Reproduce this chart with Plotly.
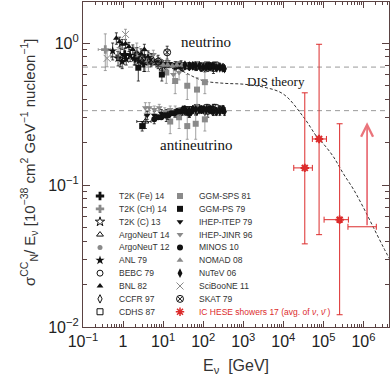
import numpy as np
import plotly.graph_objects as go

# ---------------- data ----------------
NU_REF = 0.677      # DIS expectation, neutrino (dashed line)
NUBAR_REF = 0.334   # DIS expectation, antineutrino (dashed line)

DIS_E = [3.16, 10, 31.6, 100, 316, 1e3, 3.16e3, 1e4, 3.16e4, 7.08e4, 1e5, 1.78e5,
         3.16e5, 5.62e5, 1e6, 1.78e6, 3.16e6, 4.47e6]
DIS_SIG = [0.90, 0.759, 0.631, 0.543, 0.521, 0.513, 0.490, 0.437, 0.302, 0.216, 0.195,
           0.158, 0.120, 0.0933, 0.0692, 0.0501, 0.0363, 0.0302]

T2K_FE_E = [1.1, 2.0, 3.3]
T2K_FE_NU = [0.83, 0.78, 0.72]
T2K_FE_ERR = [0.09, 0.08, 0.09]

T2K_CH_E = [0.36]
T2K_CH_NU = [0.90]
T2K_CH_ERR = [0.26]
T2K_CH_XERR = [0.12]

T2K_C_E = [0.85]
T2K_C_NU = [0.80]
T2K_C_ERR = [0.12]
T2K_C_XERR = [0.35]

ARGO14_NU_E = [9.6]
ARGO14_NU = [0.66]
ARGO14_NU_ERR = [0.06]
ARGO14_NB_E = [3.6]
ARGO14_NB = [0.28]
ARGO14_NB_ERR = [0.03]
ARGO14_NB_XERR = [1.4]

ARGO12_E = [4.3]
ARGO12_NU = [0.73]
ARGO12_ERR = [0.10]

ANL_E = [0.55, 0.75, 0.95, 1.2, 1.5, 1.9, 2.5, 3.5]
ANL_NU = [0.88, 0.78, 0.74, 0.77, 0.82, 0.78, 0.75, 0.73]
ANL_ERR = [0.12, 0.09, 0.08, 0.07, 0.08, 0.08, 0.08, 0.10]

BEBC_E = [12, 20, 30, 45, 65, 90, 130, 180]
BEBC_NU = [0.70, 0.68, 0.67, 0.69, 0.68, 0.67, 0.68, 0.66]
BEBC_NU_ERR = [0.05, 0.04, 0.04, 0.04, 0.04, 0.04, 0.05, 0.05]
BEBC_NB = [0.31, 0.32, 0.33, 0.32, 0.33, 0.34, 0.33, 0.34]
BEBC_NB_ERR = [0.03, 0.02, 0.02, 0.02, 0.02, 0.02, 0.03, 0.03]

BNL_E = [0.68, 0.82, 0.95, 1.15, 1.4, 1.75, 2.2, 2.8, 3.4, 4.2]
BNL_NU = [1.08, 1.02, 0.98, 0.99, 0.94, 0.90, 0.86, 0.84, 0.90, 0.80]
BNL_ERR = [0.10, 0.08, 0.08, 0.07, 0.07, 0.07, 0.07, 0.07, 0.08, 0.08]

CCFR_E = [35, 45, 55, 70, 90, 110, 140, 170, 210, 260, 320]
CCFR_NU = [0.69, 0.68, 0.69, 0.68, 0.68, 0.67, 0.68, 0.68, 0.67, 0.68, 0.67]
CCFR_NU_ERR = [0.02, 0.02, 0.02, 0.02, 0.02, 0.02, 0.02, 0.02, 0.02, 0.03, 0.03]
CCFR_NB = [0.34, 0.33, 0.34, 0.33, 0.34, 0.33, 0.34, 0.33, 0.33, 0.34, 0.34]
CCFR_NB_ERR = [0.01, 0.01, 0.01, 0.01, 0.01, 0.01, 0.01, 0.01, 0.02, 0.02, 0.02]

CDHS_E = [25, 35, 50, 70, 95, 125, 160, 200]
CDHS_NU = [0.70, 0.69, 0.69, 0.70, 0.69, 0.70, 0.69, 0.70]
CDHS_NU_ERR = [0.02, 0.02, 0.02, 0.02, 0.02, 0.02, 0.03, 0.03]
CDHS_NB = [0.33, 0.34, 0.34, 0.35, 0.34, 0.35, 0.34, 0.35]
CDHS_NB_ERR = [0.01, 0.01, 0.01, 0.01, 0.01, 0.02, 0.02, 0.02]

GGMSPS_NU_E = [12, 20, 40, 70, 110]
GGMSPS_NU = [0.62, 0.54, 0.50, 0.47, 0.53]
GGMSPS_NU_ERR = [0.10, 0.10, 0.10, 0.10, 0.09]
GGMSPS_NB_E = [15, 25, 40, 65, 110]
GGMSPS_NB = [0.28, 0.30, 0.26, 0.27, 0.29]
GGMSPS_NB_ERR = [0.05, 0.05, 0.05, 0.06, 0.05]

GGMPS_NU_E = [2.4, 9.3]
GGMPS_NU = [0.67, 0.60]
GGMPS_NU_ERR = [0.13, 0.06]
GGMPS_NB_E = [3.0]
GGMPS_NB = [0.26]
GGMPS_NB_ERR = [0.02]

ITEP_NU_E = [3.5, 5, 7, 10, 14, 20, 28]
ITEP_NU = [0.76, 0.74, 0.72, 0.71, 0.71, 0.70, 0.70]
ITEP_NU_ERR = [0.05, 0.04, 0.04, 0.04, 0.04, 0.04, 0.05]
ITEP_NB_E = [4, 6, 9, 13, 20, 28]
ITEP_NB = [0.31, 0.31, 0.32, 0.31, 0.32, 0.33]
ITEP_NB_ERR = [0.02, 0.02, 0.02, 0.02, 0.02, 0.02]

JINR_NU_E = [5.7, 8, 12, 18, 25]
JINR_NU = [0.83, 0.74, 0.68, 0.60, 0.62]
JINR_NU_ERR = [0.06, 0.05, 0.06, 0.08, 0.07]
JINR_NB_E = [3.6, 4.5, 6, 8, 11, 15, 20, 27]
JINR_NB = [0.35, 0.35, 0.34, 0.35, 0.33, 0.34, 0.33, 0.32]
JINR_NB_ERR = [0.03, 0.03, 0.02, 0.02, 0.02, 0.02, 0.03, 0.03]

MINOS_NU_E = [3.5, 4.5, 5.5, 7, 9, 11, 13.5, 16, 19, 22.5, 27, 32, 38, 45]
MINOS_NU = [0.76, 0.74, 0.73, 0.72, 0.71, 0.70, 0.70, 0.70, 0.69, 0.69, 0.69, 0.70, 0.69, 0.69]
MINOS_NU_ERR = [0.03, 0.02, 0.02, 0.02, 0.02, 0.02, 0.02, 0.02, 0.02, 0.02, 0.02, 0.02, 0.02, 0.03]
MINOS_NB_E = [6, 7.5, 9, 11, 13.5, 16, 19, 22.5, 27, 32, 38, 45]
MINOS_NB = [0.29, 0.30, 0.30, 0.31, 0.31, 0.32, 0.32, 0.33, 0.33, 0.34, 0.33, 0.32]
MINOS_NB_ERR = [0.02, 0.01, 0.01, 0.01, 0.01, 0.01, 0.01, 0.01, 0.01, 0.02, 0.02, 0.02]

NOMAD_E = [3, 4, 5.5, 7.5, 10, 13, 17, 22, 30, 40, 55, 75, 100]
NOMAD_NU = [0.78, 0.75, 0.73, 0.71, 0.70, 0.70, 0.69, 0.70, 0.70, 0.69, 0.69, 0.70, 0.70]
NOMAD_ERR = [0.04, 0.03, 0.03, 0.02, 0.02, 0.02, 0.02, 0.02, 0.02, 0.02, 0.02, 0.03, 0.03]

NUTEV_E = [35, 45, 55, 65, 80, 100, 120, 150, 180, 220, 260, 300, 340]
NUTEV_NU = [0.70, 0.69, 0.69, 0.69, 0.69, 0.68, 0.68, 0.68, 0.68, 0.67, 0.67, 0.67, 0.66]
NUTEV_NU_ERR = [0.02, 0.02, 0.02, 0.02, 0.02, 0.02, 0.02, 0.02, 0.02, 0.02, 0.02, 0.02, 0.03]
NUTEV_NB = [0.33, 0.33, 0.34, 0.34, 0.34, 0.34, 0.34, 0.34, 0.33, 0.33, 0.33, 0.34, 0.33]
NUTEV_NB_ERR = [0.01, 0.01, 0.01, 0.01, 0.01, 0.01, 0.01, 0.01, 0.01, 0.01, 0.02, 0.02, 0.02]

SCIB_E = [0.4, 0.75, 1.15, 2.2]
SCIB_NU = [0.78, 0.85, 1.15, 0.90]
SCIB_ERR = [0.10, 0.08, 0.10, 0.10]

SKAT_E = [3, 5, 7.5, 12.6]
SKAT_NU = [0.78, 0.76, 0.74, 0.86]
SKAT_ERR = [0.10, 0.08, 0.08, 0.09]

# IceCube HESE showers 2017 (average of nu and nubar)
IC_E = [3.43e4, 7.8e4, 2.54e5]
IC_E_LO = [1.82e4, 5.3e4, 1.04e5]
IC_E_HI = [5.3e4, 1.19e5, 4.2e5]
IC_SIG = [0.132, 0.211, 0.057]
IC_SIG_LO = [0.0385, 0.0447, 0.0122]
IC_SIG_HI = [0.446, 0.98, 0.270]
IC_LIM_E = [1.23e6]
IC_LIM_E_LO = [4.1e5]
IC_LIM_E_HI = [2.09e6]
IC_LIM_SIG = [0.0508]
IC_LIM_TOP = [0.277]

XTICK_VALS = [0.1, 1, 10, 1e2, 1e3, 1e4, 1e5, 1e6]
XTICK_TEXT = ["10<sup>−1</sup>", "1", "10<sup>1</sup>", "10<sup>2</sup>", "10<sup>3</sup>",
              "10<sup>4</sup>", "10<sup>5</sup>", "10<sup>6</sup>"]
YTICK_VALS = [0.01, 0.1, 1]
YTICK_TEXT = ["10<sup>−2</sup>", "10<sup>−1</sup>", "10<sup>0</sup>"]

# ---------------- styles ----------------
BLACK = "#111111"
GRAY = "#8a8a8a"
RED = "#dc2b2b"
AXC = "#5a4242"
TXT = "#333333"
SANS = "Liberation Sans, Arial, sans-serif"
SERIF = "Liberation Serif, Times New Roman, serif"

# name, symbol, color, size, [(E, y, yerr, xerr), ...]
SPECS = [
    ("T2K (Fe) 14", "cross", BLACK, 7, [(T2K_FE_E, T2K_FE_NU, T2K_FE_ERR, None)]),
    ("T2K (CH) 14", "cross", GRAY, 7, [(T2K_CH_E, T2K_CH_NU, T2K_CH_ERR, T2K_CH_XERR)]),
    ("T2K (C) 13", "star-open", BLACK, 7, [(T2K_C_E, T2K_C_NU, T2K_C_ERR, T2K_C_XERR)]),
    ("ArgoNeuT 14", "triangle-up-open", BLACK, 6,
     [(ARGO14_NU_E, ARGO14_NU, ARGO14_NU_ERR, None), (ARGO14_NB_E, ARGO14_NB, ARGO14_NB_ERR, ARGO14_NB_XERR)]),
    ("ArgoNeuT 12", "circle", GRAY, 5, [(ARGO12_E, ARGO12_NU, ARGO12_ERR, None)]),
    ("ANL 79", "star", BLACK, 7, [(ANL_E, ANL_NU, ANL_ERR, None)]),
    ("BEBC 79", "circle-open", BLACK, 6,
     [(BEBC_E, BEBC_NU, BEBC_NU_ERR, None), (BEBC_E, BEBC_NB, BEBC_NB_ERR, None)]),
    ("BNL 82", "triangle-up", BLACK, 6, [(BNL_E, BNL_NU, BNL_ERR, None)]),
    ("CCFR 97", "diamond-tall-open", BLACK, 6,
     [(CCFR_E, CCFR_NU, CCFR_NU_ERR, None), (CCFR_E, CCFR_NB, CCFR_NB_ERR, None)]),
    ("CDHS 87", "square-open", BLACK, 6,
     [(CDHS_E, CDHS_NU, CDHS_NU_ERR, None), (CDHS_E, CDHS_NB, CDHS_NB_ERR, None)]),
    ("GGM-SPS 81", "square", GRAY, 6,
     [(GGMSPS_NU_E, GGMSPS_NU, GGMSPS_NU_ERR, None), (GGMSPS_NB_E, GGMSPS_NB, GGMSPS_NB_ERR, None)]),
    ("GGM-PS 79", "square", BLACK, 6,
     [(GGMPS_NU_E, GGMPS_NU, GGMPS_NU_ERR, None), (GGMPS_NB_E, GGMPS_NB, GGMPS_NB_ERR, None)]),
    ("IHEP-ITEP 79", "triangle-down", BLACK, 6,
     [(ITEP_NU_E, ITEP_NU, ITEP_NU_ERR, None), (ITEP_NB_E, ITEP_NB, ITEP_NB_ERR, None)]),
    ("IHEP-JINR 96", "triangle-down", GRAY, 6,
     [(JINR_NU_E, JINR_NU, JINR_NU_ERR, None), (JINR_NB_E, JINR_NB, JINR_NB_ERR, None)]),
    ("MINOS 10", "circle", BLACK, 6,
     [(MINOS_NU_E, MINOS_NU, MINOS_NU_ERR, None), (MINOS_NB_E, MINOS_NB, MINOS_NB_ERR, None)]),
    ("NOMAD 08", "triangle-up", GRAY, 6, [(NOMAD_E, NOMAD_NU, NOMAD_ERR, None)]),
    ("NuTeV 06", "diamond-tall", BLACK, 7,
     [(NUTEV_E, NUTEV_NU, NUTEV_NU_ERR, None), (NUTEV_E, NUTEV_NB, NUTEV_NB_ERR, None)]),
    ("SciBooNE 11", "x-thin-open", GRAY, 7, [(SCIB_E, SCIB_NU, SCIB_ERR, None)]),
    ("SKAT 79", "circle-x-open", BLACK, 7, [(SKAT_E, SKAT_NU, SKAT_ERR, None)]),
]

X_RANGE = [-1, 6.637]
Y_RANGE = [-2, 0.289]

fig = go.Figure()


def marker_style(symbol, color, size):
    is_line = symbol.endswith("-open") or "thin" in symbol
    return dict(symbol=symbol, size=size, color=color,
                line=dict(color=color, width=1 if is_line else 0))


# reference dashed lines
for ref in (NU_REF, NUBAR_REF):
    fig.add_trace(go.Scatter(x=[10 ** X_RANGE[0], 10 ** X_RANGE[1]], y=[ref, ref], mode="lines",
                             line=dict(color="#9a9a9a", width=1, dash="5px,4px"),
                             showlegend=False, hoverinfo="skip"))

# DIS theory curve
fig.add_trace(go.Scatter(x=DIS_E, y=DIS_SIG, mode="lines",
                         line=dict(color="#333333", width=1, dash="3px,2px", shape="spline"),
                         showlegend=False))

# accelerator data
for name, sym, col, size, sets in SPECS:
    for E, y, yerr, xerr in sets:
        tr = dict(x=E, y=y, mode="markers", marker=marker_style(sym, col, size), name=name,
                  showlegend=False,
                  error_y=dict(type="data", array=yerr, color=col, thickness=0.8, width=1.5))
        if xerr is not None:
            tr["error_x"] = dict(type="data", array=xerr, color=col, thickness=0.8, width=1.5)
        fig.add_trace(go.Scatter(**tr))

# IceCube points
ic_xm = [c - lo for c, lo in zip(IC_E, IC_E_LO)]
ic_xp = [hi - c for c, hi in zip(IC_E, IC_E_HI)]
ic_ym = [c - lo for c, lo in zip(IC_SIG, IC_SIG_LO)]
ic_yp = [hi - c for c, hi in zip(IC_SIG, IC_SIG_HI)]
fig.add_trace(go.Scatter(
    x=IC_E, y=IC_SIG, mode="markers", showlegend=False,
    marker=dict(symbol="asterisk-open", size=7, color=RED, line=dict(color=RED, width=2)),
    error_x=dict(type="data", symmetric=False, array=ic_xp, arrayminus=ic_xm, color=RED, thickness=1, width=3),
    error_y=dict(type="data", symmetric=False, array=ic_yp, arrayminus=ic_ym, color=RED, thickness=1, width=3)))

# lower limit bin
fig.add_trace(go.Scatter(
    x=IC_LIM_E, y=IC_LIM_SIG, mode="markers", showlegend=False,
    marker=dict(size=1, color=RED, opacity=0),
    error_x=dict(type="data", symmetric=False,
                 array=[h - c for c, h in zip(IC_LIM_E, IC_LIM_E_HI)],
                 arrayminus=[c - l for c, l in zip(IC_LIM_E, IC_LIM_E_LO)],
                 color=RED, thickness=1, width=3)))

annotations = []
for e, lo, top in zip(IC_LIM_E, IC_LIM_SIG, IC_LIM_TOP):
    annotations.append(dict(x=np.log10(e), y=np.log10(top), ax=np.log10(e), ay=np.log10(lo),
                            xref="x", yref="y", axref="x", ayref="y", text="", showarrow=True,
                            arrowhead=5, arrowsize=1.3, arrowwidth=1.8, arrowcolor="rgba(228,70,80,0.75)"))

# ---------------- legend (two compact columns on a helper axis) ----------------
LEG_COL_X = [100, 180]
LEG_TEXT_DX = 17
LEG_ROWS = 10
leg_entries = [(n, marker_style(s, c, size)) for n, s, c, size, _ in SPECS]
leg_entries.append(("IC HESE showers 17 (avg. of <i>ν</i>, <i>ν̄</i> )",
                    dict(symbol="asterisk-open", size=7, color=RED, line=dict(color=RED, width=1.5))))
for i, (label, mk) in enumerate(leg_entries):
    col, row = divmod(i, LEG_ROWS)
    fig.add_trace(go.Scatter(x=[LEG_COL_X[col]], y=[row], mode="markers", marker=mk,
                             xaxis="x2", yaxis="y2", showlegend=False, hoverinfo="skip"))
    annotations.append(dict(x=LEG_COL_X[col] + LEG_TEXT_DX, y=row, xref="x2", yref="y2",
                            text=label, showarrow=False, xanchor="left", yanchor="middle",
                            font=dict(family=SANS, size=8.5, color=RED if label.startswith("IC") else TXT)))

# text labels
annotations += [
    dict(x=2.07, y=0.004, xref="x", yref="y", text="neutrino", showarrow=False,
         font=dict(family=SERIF, size=15, color="#111")),
    dict(x=1.81, y=-0.715, xref="x", yref="y", text="antineutrino", showarrow=False,
         font=dict(family=SERIF, size=15, color="#111")),
    dict(x=3.826, y=-0.272, xref="x", yref="y", text="DIS theory", showarrow=False,
         font=dict(family=SERIF, size=13, color="#111")),
    dict(x=-0.176, y=0.508, xref="paper", yref="paper", textangle=-90, showarrow=False,
         xanchor="center", yanchor="middle",
         text="σ<sup>CC</sup><sub>N</sub>/ E<sub>ν</sub> [10<sup>−38</sup> cm<sup>2</sup> GeV<sup>−1</sup> nucleon<sup>−1</sup>]",
         font=dict(family=SANS, size=15, color=TXT)),
    dict(x=0.5, y=-0.122, xref="paper", yref="paper", showarrow=False, xanchor="center", yanchor="middle",
         text="E<sub>ν</sub>  [GeV]", font=dict(family=SANS, size=16, color=TXT)),
]

x_minor = [m * 10.0 ** k for k in range(-1, 7) for m in range(2, 10)]
y_minor = [m * 10.0 ** k for k in range(-2, 1) for m in range(2, 10)]

axis_common = dict(type="log", showgrid=False, zeroline=False, showline=True, linecolor=AXC,
                   linewidth=1.2, mirror="ticks", ticks="inside", tickcolor=AXC,
                   tickmode="array", tickfont=dict(family=SANS, size=16, color="#222"))

fig.update_layout(
    width=390, height=376,
    margin=dict(l=83, r=1, t=2, b=49),
    paper_bgcolor="white", plot_bgcolor="white",
    showlegend=False,
    xaxis=dict(axis_common, range=X_RANGE, tickvals=XTICK_VALS, ticktext=XTICK_TEXT, ticklen=6,
               minor=dict(tickmode="array", tickvals=x_minor, ticks="inside", ticklen=3, tickcolor=AXC)),
    yaxis=dict(axis_common, range=Y_RANGE, tickvals=YTICK_VALS, ticktext=YTICK_TEXT, ticklen=7,
               minor=dict(tickmode="array", tickvals=y_minor, ticks="inside", ticklen=4, tickcolor=AXC)),
    xaxis2=dict(overlaying="x", anchor="y2", range=[83, 389], visible=False),
    yaxis2=dict(overlaying="y", anchor="x2", range=[10.187, -15.085], visible=False),
    annotations=annotations,
)

fig.write_html("out.html", config={"displayModeBar": False},
               post_script="document.body.style.margin='0px';document.body.style.padding='0px';")
